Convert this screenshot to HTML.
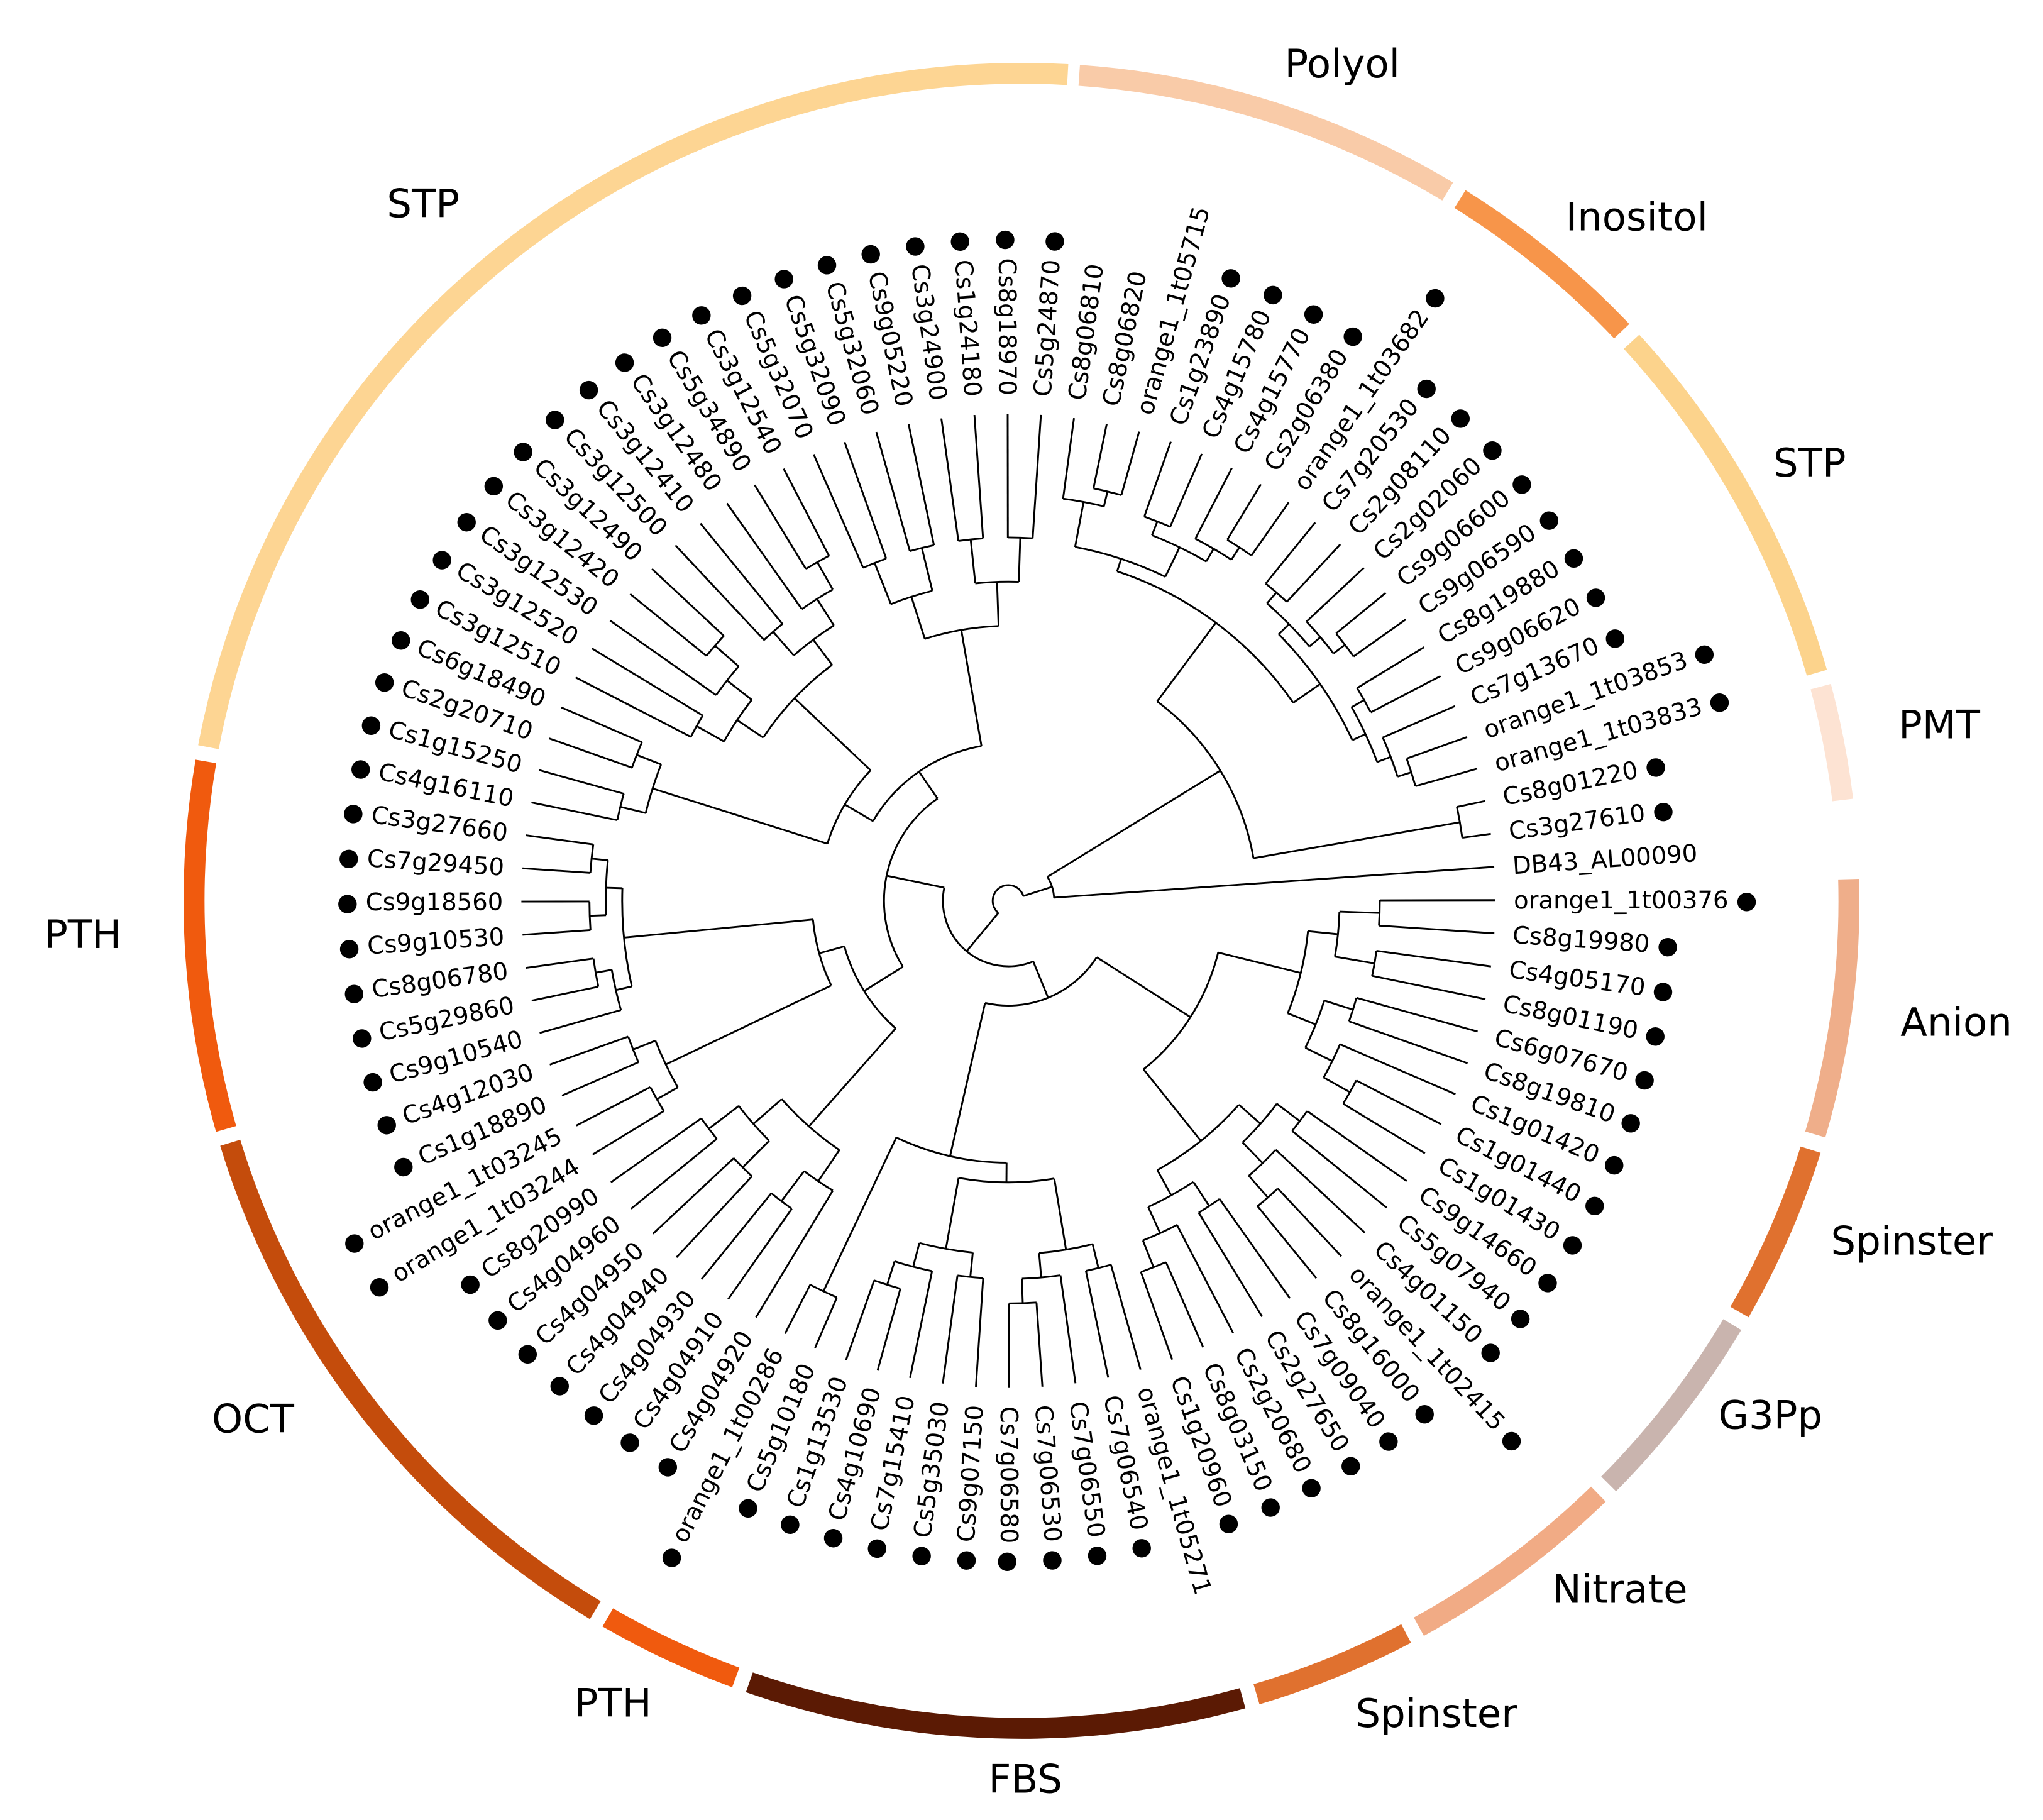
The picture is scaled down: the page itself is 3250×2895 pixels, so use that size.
<!DOCTYPE html>
<html><head><meta charset="utf-8">
<style>
html,body{margin:0;padding:0;background:#fff;}
svg{display:block;}
</style></head>
<body>
<svg id="s" xmlns="http://www.w3.org/2000/svg" width="3250" height="2895" viewBox="0 0 1560 1390">
<rect width="1560" height="1390" fill="#fff"/>
<g id="ring"></g>
<g id="tree" fill="none" stroke="#000" stroke-width="1.4"></g>
<g id="labs" font-family="DejaVu Sans, Liberation Sans, sans-serif" font-size="18.5" fill="#000"></g>
<g font-family="DejaVu Sans, Liberation Sans, sans-serif" font-size="30" fill="#000" text-anchor="middle">
<text x="1025" y="59">Polyol</text>
<text x="1250" y="176">Inositol</text>
<text x="1382" y="364">STP</text>
<text x="1481" y="564">PMT</text>
<text x="1494" y="791">Anion</text>
<text x="1460" y="958">Spinster</text>
<text x="1352" y="1091">G3Pp</text>
<text x="1237" y="1224">Nitrate</text>
<text x="1097" y="1319">Spinster</text>
<text x="783" y="1369">FBS</text>
<text x="468" y="1311">PTH</text>
<text x="193" y="1094">OCT</text>
<text x="63" y="724">PTH</text>
<text x="323" y="166">STP</text>
</g>
</svg>
<script>
const NS="http://www.w3.org/2000/svg";
const cx=770, cy=688, step=360/92, LEAF=372, LAB=386;
const names=["DB43_AL00090","Cs3g27610","Cs8g01220","orange1_1t03833","orange1_1t03853","Cs7g13670","Cs9g06620","Cs8g19880","Cs9g06590","Cs9g06600","Cs2g02060","Cs2g08110","Cs7g20530","orange1_1t03682","Cs2g06380","Cs4g15770","Cs4g15780","Cs1g23890","orange1_1t05715","Cs8g06820","Cs8g06810","Cs5g24870","Cs8g18970","Cs1g24180","Cs3g24900","Cs9g05220","Cs5g32060","Cs5g32090","Cs5g32070","Cs3g12540","Cs5g34890","Cs3g12480","Cs3g12410","Cs3g12500","Cs3g12490","Cs3g12420","Cs3g12530","Cs3g12520","Cs3g12510","Cs6g18490","Cs2g20710","Cs1g15250","Cs4g16110","Cs3g27660","Cs7g29450","Cs9g18560","Cs9g10530","Cs8g06780","Cs5g29860","Cs9g10540","Cs4g12030","Cs1g18890","orange1_1t03245","orange1_1t03244","Cs8g20990","Cs4g04960","Cs4g04950","Cs4g04940","Cs4g04930","Cs4g04910","Cs4g04920","orange1_1t00286","Cs5g10180","Cs1g13530","Cs4g10690","Cs7g15410","Cs5g35030","Cs9g07150","Cs7g06580","Cs7g06530","Cs7g06550","Cs7g06540","orange1_1t05271","Cs1g20960","Cs8g03150","Cs2g20680","Cs2g27650","Cs7g09040","Cs8g16000","orange1_1t02415","Cs4g01150","Cs5g07940","Cs9g14660","Cs1g01430","Cs1g01440","Cs1g01420","Cs8g19810","Cs6g07670","Cs8g01190","Cs4g05170","Cs8g19980","orange1_1t00376"];
const nodot=new Set([0,18,19,20,72]);
function ang(i){return -4-i*step;}
function P(r,a){const t=a*Math.PI/180;return [cx+r*Math.cos(t),cy+r*Math.sin(t)];}
function n(r,c){return {r:r,c:c};}
function bal(a,b,r){if(a==b)return a;const m=Math.floor((a+b)/2);const k=Math.ceil(Math.log2(b-a+1))+1;const d=Math.min(40,(345-r)/k);return n(r,[bal(a,m,r+d),bal(m+1,b,r+d)]);}
const tree=document.getElementById("tree");
function path(d){const p=document.createElementNS(NS,"path");p.setAttribute("d",d);tree.appendChild(p);}
function line(r1,r2,a){const p1=P(r1,a),p2=P(r2,a);path("M"+p1[0].toFixed(2)+","+p1[1].toFixed(2)+"L"+p2[0].toFixed(2)+","+p2[1].toFixed(2));}
function arc(r,a1,a2){if(Math.abs(a2-a1)<0.01)return;const lo=Math.min(a1,a2),hi=Math.max(a1,a2);const p1=P(r,lo),p2=P(r,hi);const large=(hi-lo)>180?1:0;path("M"+p1[0].toFixed(2)+","+p1[1].toFixed(2)+"A"+r+","+r+" 0 "+large+" 1 "+p2[0].toFixed(2)+","+p2[1].toFixed(2));}
function draw(nd,pr){
  if(typeof nd==="number"){const a=ang(nd);line(pr,LEAF,a);return a;}
  const as=nd.c.map(c=>draw(c,nd.r));
  const lo=Math.min(...as),hi=Math.max(...as);
  arc(nd.r,lo,hi);
  const m=(lo+hi)/2;
  if(pr!==null)line(pr,nd.r,m);
  return m;
}
const right=n(190,[n(350,[1,2]),n(265,[bal(3,12,290),n(275,[bal(13,17,300),bal(18,20,310)])])]);
const topleft=n(120,[bal(21,28,210),n(145,[bal(29,38,225),bal(39,42,285)])]);
const left=n(130,[n(150,[bal(43,49,295),bal(50,53,290)]),bal(54,60,230)]);
const upper=n(95,[topleft,left]);
const fbs=n(200,[bal(61,62,330),n(215,[bal(63,67,270),bal(68,72,270)])]);
const rlow=n(165,[bal(73,82,235),bal(83,91,230)]);
const lower=n(80,[fbs,rlow]);
const root=n(12,[n(35,[0,n(55,[right])]),n(50,[upper,lower])]);
draw(root,null);
const labs=document.getElementById("labs");
names.forEach((nm,i)=>{
  const a=ang(i);const t=document.createElementNS(NS,"text");
  const c=Math.cos(a*Math.PI/180);
  let txt;
  if(c>=0){t.setAttribute("x",cx+LAB);t.setAttribute("y",cy+6.5);t.setAttribute("transform","rotate("+a.toFixed(3)+" "+cx+" "+cy+")");t.setAttribute("text-anchor","start");txt=nm+(nodot.has(i)?"":" \u25CF");}
  else{t.setAttribute("x",cx-LAB);t.setAttribute("y",cy+6.5);t.setAttribute("transform","rotate("+(a+180).toFixed(3)+" "+cx+" "+cy+")");t.setAttribute("text-anchor","end");txt=(nodot.has(i)?"":"\u25CF ")+nm;}
  t.textContent=txt;labs.appendChild(t);
});
const ring=document.getElementById("ring");
const RC=[780,688],RR=632;
const segs=[[-86,-59,"#f9cba8"],[-58,-43.5,"#f7954a"],[-42.5,-16,"#fcd38c"],[-15,-7,"#fde3d3"],[-1.5,16.4,"#efae8a"],[17.5,29.8,"#e0712f"],[30.8,44.8,"#c9b4ae"],[45.8,61.3,"#f1ab85"],[62.3,73.5,"#e0712f"],[74.5,109.2,"#5b1a04"],[110.2,120,"#f05a0e"],[121,163,"#c44c0c"],[164,189.7,"#f05a0e"],[190.7,273.2,"#fdd593"]];
segs.forEach(s=>{const t1=s[0]*Math.PI/180,t2=s[1]*Math.PI/180;const x1=RC[0]+RR*Math.cos(t1),y1=RC[1]+RR*Math.sin(t1),x2=RC[0]+RR*Math.cos(t2),y2=RC[1]+RR*Math.sin(t2);const p=document.createElementNS(NS,"path");p.setAttribute("d","M"+x1+","+y1+"A"+RR+","+RR+" 0 "+((s[1]-s[0])>180?1:0)+" 1 "+x2+","+y2);p.setAttribute("fill","none");p.setAttribute("stroke",s[2]);p.setAttribute("stroke-width","16");ring.appendChild(p);});
</script>
</body></html>
